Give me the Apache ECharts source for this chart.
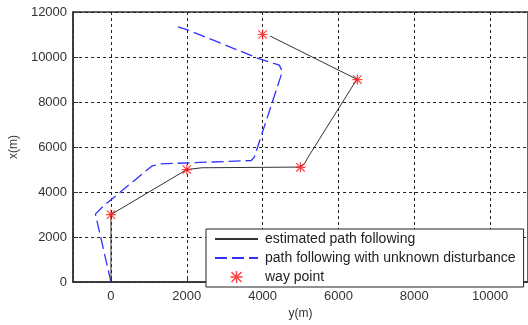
<!DOCTYPE html>
<html>
<head>
<meta charset="utf-8">
<script src="https://cdn.jsdelivr.net/npm/echarts@6/dist/echarts.min.js"></script>
<style>
  html, body { margin: 0; padding: 0; background: #fff; }
  #chart { width: 528px; height: 325px; }
</style>
</head>
<body>
<div id="chart"></div>
<script>
// [y(m), x(m)] points
const estimatedPath = [
  [0, 0], [0, 3000], [2000, 5000], [2400, 5080], [4950, 5110],
  [5100, 5250], [5200, 5550], [6400, 8780], [6500, 9000], [4200, 10930]
];
const disturbedPath = [
  [0, 0], [-410, 3020], [-200, 3380], [1075, 5150], [1290, 5250],
  [3700, 5400], [3780, 5550], [4520, 9350], [4440, 9640], [3900, 9930],
  [2000, 11220], [1770, 11340]
];
const wayPoints = [
  [0, 3000], [2000, 5000], [5000, 5100], [6500, 9000], [4000, 11000]
];
const seriesNames = [
  "estimated path following",
  "path following with unknown disturbance",
  "way point"
];

const star = "path://M4.4,0 L5.6,0 L5.6,10 L4.4,10 Z M0,4.4 L10,4.4 L10,5.6 L0,5.6 Z " +
  "M1.2,0.4 L9.6,8.8 L8.8,9.6 L0.4,1.2 Z M8.8,0.4 L9.6,1.2 L1.2,9.6 L0.4,8.8 Z";

const chart = echarts.init(document.getElementById("chart"));
const font = "Liberation Sans, Arial, sans-serif";

chart.setOption({
  animation: false,
  grid: {
    left: 73, right: -3, top: 12, bottom: 35,
    show: true, borderColor: "#333", borderWidth: 1.5
  },
  legend: {
    orient: "vertical",
    left: 206, top: 229,
    data: [
      { name: seriesNames[0], itemStyle: { opacity: 0 } },
      { name: seriesNames[1], itemStyle: { opacity: 0 } },
      { name: seriesNames[2] }
    ],
    backgroundColor: "#fff",
    borderColor: "#222",
    borderWidth: 1,
    padding: [3, 8, 3, 8],
    itemWidth: 43,
    itemHeight: 12,
    itemGap: 5,
    textStyle: { fontFamily: font, fontSize: 14, color: "#222", padding: [0, 0, 0, 2] }
  },
  xAxis: {
    type: "value",
    min: -1000, max: 11000, splitNumber: 6,
    name: "y(m)", nameLocation: "middle", nameGap: 24,
    nameTextStyle: { fontFamily: font, fontSize: 12, color: "#333" },
    axisLine: { onZero: false, lineStyle: { color: "#333", width: 1.5 } },
    axisTick: { inside: true, length: 5, lineStyle: { color: "#333" } },
    axisLabel: {
      fontFamily: font, fontSize: 13, color: "#333", margin: 8,
      showMinLabel: false, showMaxLabel: false,
      formatter: v => (v % 2000 === 0 ? String(v) : "")
    },
    splitLine: { show: true, lineStyle: { color: "#222", type: [3, 3], width: 1 } }
  },
  yAxis: {
    type: "value",
    min: 0, max: 12000, interval: 2000,
    name: "x(m)", nameLocation: "middle", nameGap: 52, nameRotate: 90,
    nameTextStyle: { fontFamily: font, fontSize: 12, color: "#333" },
    axisLine: { onZero: false, lineStyle: { color: "#333", width: 1.5 } },
    axisTick: { inside: true, length: 5, lineStyle: { color: "#333" } },
    axisLabel: { fontFamily: font, fontSize: 13, color: "#333", margin: 6, formatter: v => String(v) },
    splitLine: { show: true, lineStyle: { color: "#222", type: [3, 3], width: 1 } }
  },
  series: [
    {
      name: seriesNames[0],
      type: "line",
      data: estimatedPath,
      symbol: "none",
      lineStyle: { color: "#333", width: 1 },
      itemStyle: { color: "#333" },
      z: 3
    },
    {
      name: seriesNames[1],
      type: "line",
      data: disturbedPath,
      symbol: "none",
      lineStyle: { color: "#3030ff", width: 1.3, type: [12, 5] },
      itemStyle: { color: "#3030ff" },
      z: 2
    },
    {
      name: seriesNames[2],
      type: "scatter",
      data: wayPoints,
      symbol: star,
      symbolSize: 10,
      itemStyle: { color: "#ff1010" },
      z: 4
    }
  ]
});
</script>
</body>
</html>
